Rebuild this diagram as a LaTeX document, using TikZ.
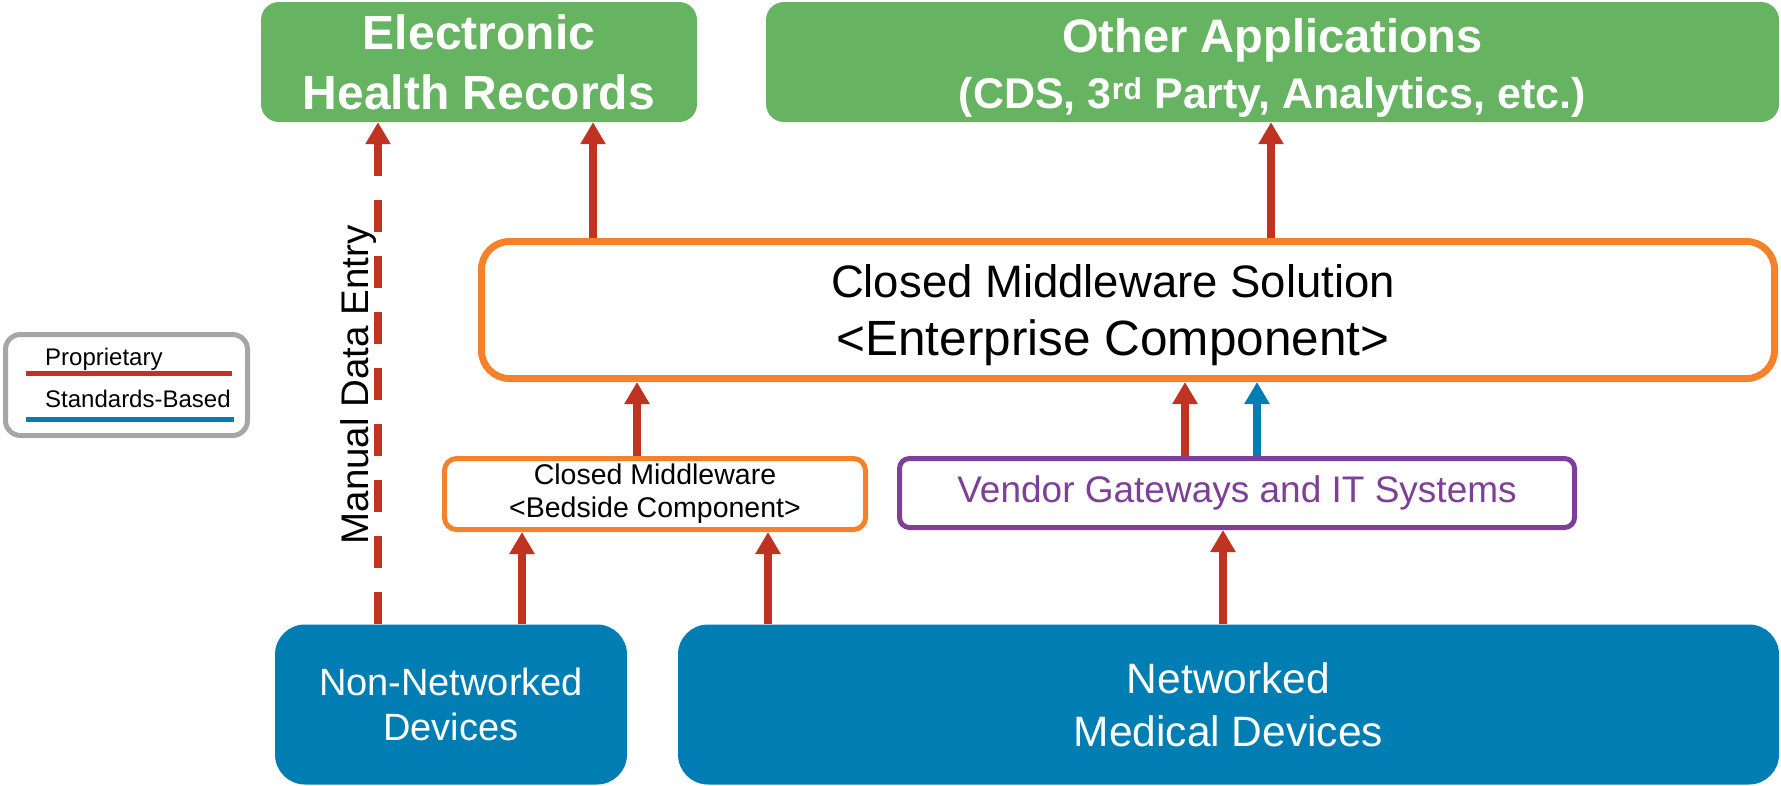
\documentclass[tikz,border=0pt]{standalone}
\usepackage{fontspec}
\setmainfont{Liberation Sans}
\usetikzlibrary{arrows.meta}

\definecolor{ehrgreen}{HTML}{66B461}
\definecolor{devblue}{HTML}{007DB2}
\definecolor{mworange}{HTML}{F5822A}
\definecolor{gwpurple}{HTML}{7E3F98}
\definecolor{propred}{HTML}{C03221}
\definecolor{legendgray}{HTML}{A6A6A6}

\tikzset{
  greenbox/.style={fill=ehrgreen, text=white, rounded corners=18pt, align=center, inner sep=0pt},
  bluebox/.style={fill=devblue, text=white, rounded corners=30pt, align=center, inner sep=0pt},
  mwbox/.style={draw=mworange, fill=white, align=center, inner sep=0pt},
  prop/.style={draw=propred, line width=8pt, -{Triangle[width=24pt,length=22pt]}},
  std/.style={draw=devblue, line width=8pt, -{Triangle[width=24pt,length=22pt]}},
}

\begin{document}
\begin{tikzpicture}[x=1pt,y=-1pt]
\useasboundingbox (0,0) rectangle (1781,785);

% top row
\node[greenbox, minimum width=436pt, minimum height=120pt,
  font=\fontsize{48}{60}\selectfont\bfseries] (ehr) at (479,62)
  {Electronic\\Health Records};
\node[greenbox, minimum width=1013pt, minimum height=120pt] (oth) at (1272.5,62) {};
\node[text=white, align=center, inner sep=0pt, font=\bfseries\fontsize{43}{56}\selectfont]
  (othtext) at ([yshift=-6pt]oth.center)
  {{\fontsize{47}{56}\selectfont Other Applications}\\(CDS, 3\textsuperscript{rd} Party, Analytics, etc.)};

% middleware
\node[mwbox, line width=7pt, rounded corners=28pt, minimum width=1293pt, minimum height=137pt] (cms) at (1128,310) {};
\node[align=center, inner sep=0pt, font=\fontsize{45.5}{58}\selectfont]
  (cmstext) at ([xshift=-15pt,yshift=-5pt]cms.center)
  {Closed Middleware Solution\\{\fontsize{49.5}{58}\selectfont <Enterprise Component>}};
\node[mwbox, line width=5pt, rounded corners=12pt, minimum width=421pt, minimum height=71pt,
  font=\fontsize{28.5}{33}\selectfont] (bed) at (655,494)
  {Closed Middleware\\<Bedside Component>};
\node[draw=gwpurple, line width=5pt, rounded corners=10pt, text=gwpurple, inner sep=0pt,
  minimum width=675pt, minimum height=69pt,
  font=\fontsize{37}{44}\selectfont] (gw) at (1237,493)
  {Vendor Gateways and IT Systems};

% devices
\node[bluebox, minimum width=352pt, minimum height=160pt,
  font=\fontsize{38}{45}\selectfont] (nnd) at (451,704.5)
  {Non-Networked\\Devices};
\node[bluebox, minimum width=1101pt, minimum height=160pt,
  font=\fontsize{42.5}{53}\selectfont] (nmd) at (1228.5,704.5)
  {Networked\\Medical Devices};

% legend
\node[draw=legendgray, line width=5pt, rounded corners=15pt, inner sep=0pt,
  minimum width=242pt, minimum height=101pt] (legend) at (126.5,385) {};
\node[anchor=base west, inner sep=0pt, font=\fontsize{24}{28}\selectfont] (lprop) at (45,365) {Proprietary};
\node[anchor=base west, inner sep=0pt, font=\fontsize{24}{28}\selectfont] (lstd) at (45,407) {Standards-Based};
\draw[propred, line width=5pt] (26,373) -- (232,373);
\draw[devblue, line width=5pt] (26,419) -- (234,419);

% manual entry
\node[rotate=90, anchor=base, inner sep=0pt, font=\fontsize{38.5}{44}\selectfont] (mde) at (368,385)
  {Manual Data Entry};

% connectors
\coordinate (d0) at ([xshift=-73pt]nnd.north);
\coordinate (a1) at ([xshift=71pt]nnd.north);
\coordinate (a2) at ([xshift=-460.5pt]nmd.north);
\coordinate (a3) at ([xshift=-5.5pt]nmd.north);
\coordinate (a4) at ([xshift=-18pt]bed.north);
\coordinate (a5) at ([xshift=-52pt]gw.north);
\coordinate (a6) at ([xshift=20pt]gw.north);
\coordinate (a7) at ([xshift=-535pt]cms.north);
\coordinate (a8) at ([xshift=143pt]cms.north);

\draw[prop, dash pattern=on 32pt off 24pt] (d0) -- (d0 |- ehr.south);
\draw[prop] (a1) -- (a1 |- bed.south);
\draw[prop] (a2) -- (a2 |- bed.south);
\draw[prop] (a3) -- (a3 |- gw.south);
\draw[prop] (a4) -- (a4 |- cms.south);
\draw[prop] (a5) -- (a5 |- cms.south);
\draw[std] (a6) -- (a6 |- cms.south);
\draw[prop] (a7) -- (a7 |- ehr.south);
\draw[prop] (a8) -- (a8 |- oth.south);
\end{tikzpicture}
\end{document}
